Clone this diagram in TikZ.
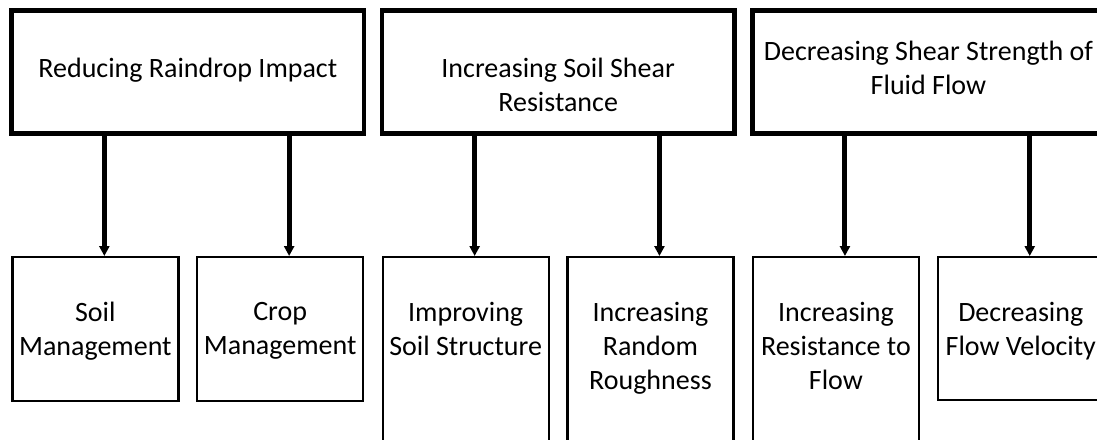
\documentclass[tikz,border=0pt]{standalone}
\usepackage{fontspec}
\setmainfont{Carlito}
\usetikzlibrary{arrows.meta,positioning}

\tikzset{
  topbox/.style={draw, line width=4.7pt, minimum width=352.3pt, minimum height=122.5pt, inner sep=0pt},
  subbox/.style={draw, line width=2.3pt, minimum width=166pt, inner sep=0pt, anchor=north},
  boxtext/.style={font=\fontsize{28}{34}\selectfont, align=center, inner sep=0pt, anchor=north,
    execute at begin node={\rule{0pt}{20pt}}},
  arr/.style={line width=5pt, -{Triangle[width=10pt,length=10pt]}}
}

\begin{document}
\begin{tikzpicture}[x=1pt, y=-1pt]
  \useasboundingbox (0,0) rectangle (1097,439);
  \clip (0,0) rectangle (1097,439);

  % Top boxes
  \node[topbox] (rain) at (187.85,72) {};
  \node[topbox] (shear) at (558.15,72) {};
  \node[topbox] (fluid) at (928.45,72) {};

  \node[boxtext] (raintxt) at (187.85,57.3) {Reducing Raindrop Impact};
  \node[boxtext] (sheartxt) at (558.15,57.7) {Increasing Soil Shear\\Resistance};
  \node[boxtext] (fluidtxt) at (928.45,40.7) {Decreasing Shear Strength of\\Fluid Flow};

  % Bottom boxes
  \node[subbox, minimum height=143.5pt] (soil) at (95.35,256) {};
  \node[subbox, minimum height=143.5pt] (crop) at (280.15,256) {};
  \node[subbox, minimum height=220pt] (struct) at (465.65,256) {};
  \node[subbox, minimum height=220pt] (rough) at (650.45,256) {};
  \node[subbox, minimum height=220pt] (resist) at (835.95,256) {};
  \node[subbox, minimum height=143pt] (velo) at (1020.75,256) {};

  \node[boxtext] (soiltxt) at (soil.north) [yshift=-46pt] {Soil\\Management};
  \node[boxtext] (croptxt) at (crop.north) [yshift=-46pt] {Crop\\Management};
  \node[boxtext] (structtxt) at (struct.north) [yshift=-46pt] {Improving\\Soil Structure};
  \node[boxtext] (roughtxt) at (rough.north) [yshift=-46pt] {Increasing\\Random\\Roughness};
  \node[boxtext] (resisttxt) at (resist.north) [yshift=-46pt] {Increasing\\Resistance to\\Flow};
  \node[boxtext] (velotxt) at (velo.north) [yshift=-46pt] {Decreasing\\Flow Velocity};

  % Arrows
  \foreach \t/\b in {rain/soil, rain/crop, shear/struct, shear/rough, fluid/resist, fluid/velo}
    \draw[arr] ([xshift=9pt]\b.north |- \t.south) -- ([xshift=9pt]\b.north);
\end{tikzpicture}
\end{document}
